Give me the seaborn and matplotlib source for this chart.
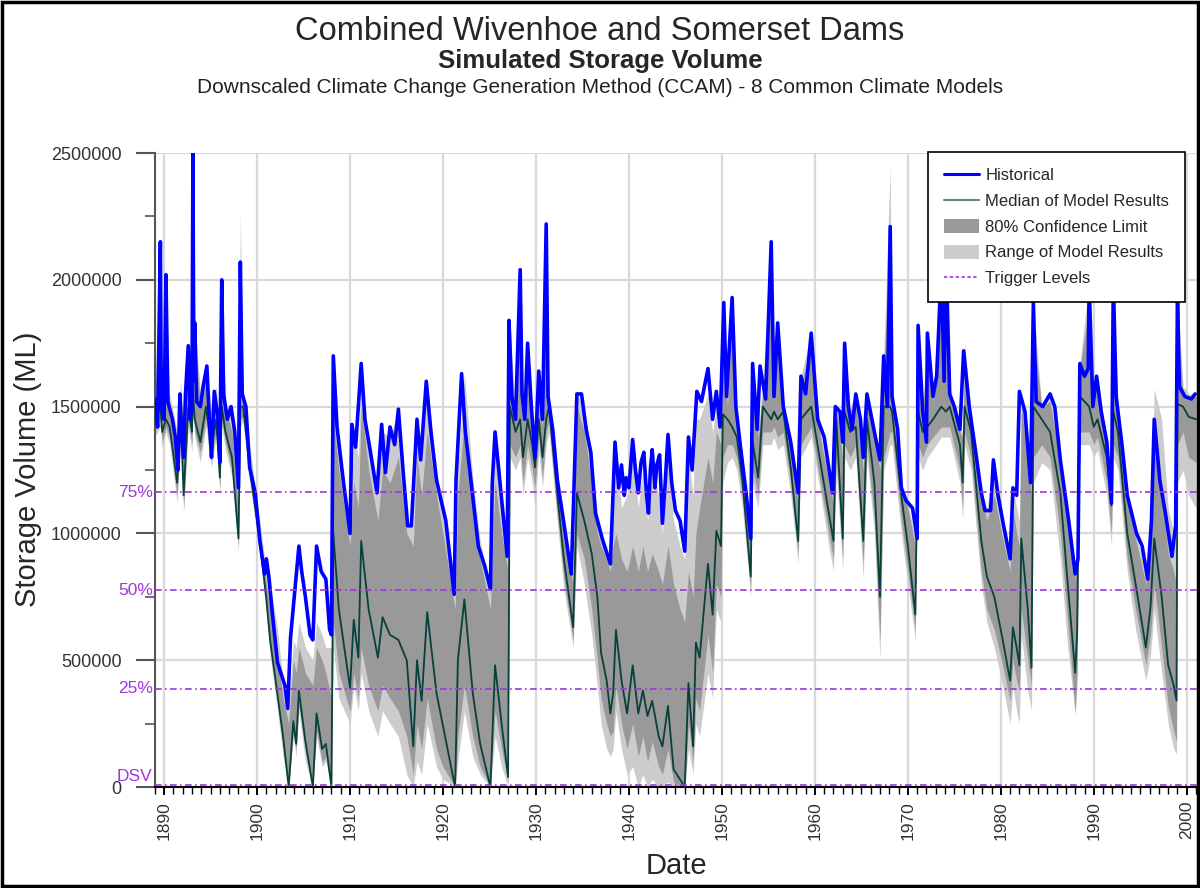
import matplotlib
matplotlib.use("Agg")
import numpy as np
import pandas as pd
import matplotlib.pyplot as plt
import seaborn as sns
from matplotlib.lines import Line2D
from matplotlib.patches import Patch, Rectangle
from matplotlib.ticker import MultipleLocator, FuncFormatter

# ---- data (storage in GL, 1 GL = 1000 ML) ----
hist_year = [
    1889.0, 1889.3, 1889.6, 1889.7, 1890.0, 1890.2, 1890.4, 1890.9, 1891.2, 1891.5,
    1891.7, 1891.9, 1892.1, 1892.3, 1892.6, 1892.8, 1893.0, 1893.1, 1893.2, 1893.3,
    1893.5, 1893.9, 1894.2, 1894.6, 1894.9, 1895.1, 1895.4, 1895.8, 1896.0, 1896.2,
    1896.4, 1896.8, 1897.2, 1897.6, 1898.0, 1898.2, 1898.4, 1898.8, 1899.2, 1899.8,
    1900.3, 1900.8, 1901.0, 1901.3, 1901.6, 1902.2, 1903.0, 1903.3, 1903.6, 1904.0,
    1904.5, 1904.8, 1905.2, 1905.7, 1906.0, 1906.4, 1906.9, 1907.4, 1907.8, 1908.0,
    1908.2, 1908.6, 1909.3, 1910.0, 1910.2, 1910.6, 1911.2, 1911.6, 1912.2, 1912.9,
    1913.4, 1913.8, 1914.3, 1914.8, 1915.2, 1915.7, 1916.2, 1916.6, 1917.2, 1917.6,
    1918.2, 1918.7, 1919.3, 1920.3, 1921.2, 1921.4, 1922.0, 1922.4, 1923.0, 1923.8,
    1924.5, 1925.1, 1925.3, 1925.6, 1926.1, 1926.9, 1927.1, 1927.4, 1927.8, 1928.3,
    1928.5, 1928.8, 1929.1, 1929.5, 1929.9, 1930.3, 1930.7, 1931.1, 1931.3, 1931.8,
    1932.3, 1933.0, 1933.8, 1934.4, 1934.9, 1935.4, 1935.9, 1936.4, 1937.2, 1938.0,
    1938.5, 1938.9, 1939.2, 1939.5, 1939.7, 1940.0, 1940.4, 1940.7, 1941.0, 1941.3,
    1941.6, 1941.9, 1942.1, 1942.3, 1942.5, 1942.8, 1943.0, 1943.3, 1943.6, 1943.9,
    1944.2, 1944.6, 1945.0, 1945.5, 1946.0, 1946.4, 1946.8, 1947.3, 1947.8, 1948.5,
    1949.0, 1949.4, 1949.8, 1950.2, 1950.5, 1951.1, 1951.5, 1952.0, 1952.6, 1953.1,
    1953.3, 1953.8, 1954.1, 1954.7, 1955.3, 1955.6, 1956.0, 1956.6, 1957.4, 1958.2,
    1958.5, 1959.0, 1959.6, 1960.3, 1961.0, 1961.9, 1962.2, 1962.7, 1963.0, 1963.2,
    1963.6, 1964.0, 1964.4, 1964.9, 1965.2, 1965.6, 1966.4, 1967.0, 1967.4, 1967.8,
    1968.1, 1968.3, 1968.9, 1969.3, 1969.8, 1970.5, 1971.0, 1971.1, 1971.6, 1972.0,
    1972.1, 1972.7, 1973.1, 1973.6, 1973.9, 1974.1, 1974.5, 1975.0, 1975.6, 1976.0,
    1976.6, 1977.3, 1977.9, 1978.3, 1978.9, 1979.2, 1979.7, 1980.3, 1981.0, 1981.3,
    1981.7, 1982.0, 1982.6, 1983.2, 1983.5, 1983.8, 1984.5, 1985.3, 1985.8, 1986.4,
    1987.3, 1988.0, 1988.3, 1988.5, 1989.0, 1989.4, 1989.5, 1989.9, 1990.3, 1990.8,
    1991.4, 1991.9, 1992.1, 1992.4, 1993.0, 1993.6, 1994.0, 1994.6, 1995.2, 1995.8,
    1996.2, 1996.5, 1997.1, 1997.7, 1998.4, 1998.8, 1999.0, 1999.2, 1999.8, 2000.5,
    2000.9,
]
hist_gl = [
    1530, 1420, 2150, 1500, 1450, 2020, 1520, 1450, 1380, 1250,
    1550, 1400, 1300, 1550, 1740, 1450, 1500, 2500, 1600, 1830,
    1520, 1500, 1580, 1660, 1420, 1300, 1560, 1450, 1280, 2000,
    1550, 1450, 1500, 1400, 1180, 2070, 1550, 1500, 1260, 1160,
    970, 840, 900, 820, 700, 490, 400, 310, 590, 750,
    950, 850, 750, 600, 580, 950, 850, 820, 620, 600,
    1700, 1420, 1200, 1000, 1430, 1340, 1670, 1450, 1320, 1160,
    1430, 1240, 1420, 1350, 1490, 1250, 1030, 1030, 1450, 1290,
    1600, 1400, 1210, 1050, 760, 1210, 1630, 1400, 1210, 950,
    870, 780, 1200, 1400, 1210, 910, 1840, 1540, 1450, 2040,
    1550, 1450, 1750, 1500, 1300, 1640, 1450, 2220, 1540, 1410,
    1210, 1040, 840, 1550, 1550, 1410, 1320, 1080, 970, 880,
    1360, 1180, 1270, 1150, 1220, 1180, 1370, 1250, 1160, 1280,
    1320, 1150, 1080, 1250, 1330, 1180, 1270, 1310, 1040, 1200,
    1390, 1200, 1090, 1050, 930, 1380, 1250, 1560, 1520, 1650,
    1450, 1560, 1420, 1910, 1540, 1930, 1500, 1340, 1160, 980,
    1670, 1410, 1660, 1530, 2150, 1540, 1830, 1500, 1360, 1160,
    1620, 1550, 1790, 1450, 1380, 1160, 1500, 1480, 1360, 1750,
    1500, 1410, 1550, 1450, 1300, 1550, 1400, 1290, 1700, 1500,
    2210, 1540, 1410, 1180, 1130, 1100, 980, 1820, 1480, 1360,
    1790, 1540, 1620, 2050, 1600, 2100, 1550, 1500, 1410, 1720,
    1500, 1320, 1160, 1090, 1090, 1290, 1150, 1030, 900, 1180,
    1150, 1560, 1480, 1200, 1910, 1520, 1500, 1550, 1500, 1290,
    1050, 840, 900, 1670, 1620, 1650, 1990, 1500, 1620, 1480,
    1360, 1120, 2000, 1540, 1360, 1150, 1090, 1000, 950, 820,
    1050, 1450, 1210, 1080, 910, 1030, 1950, 1580, 1540, 1530,
    1550,
]

# model ensemble statistics
model_year = [
    1889.0, 1889.6, 1889.8, 1890.2, 1890.6, 1891.4, 1891.8, 1892.1, 1892.6, 1893.0,
    1893.1, 1893.3, 1893.9, 1894.5, 1895.1, 1895.6, 1896.0, 1896.2, 1896.6, 1897.3,
    1898.0, 1898.2, 1898.5,
    1899.2, 1900.3, 1901.0, 1901.4, 1902.1, 1902.8, 1903.4, 1903.9, 1904.2, 1904.5,
    1905.2, 1906.0, 1906.4, 1907.0, 1907.4, 1908.0,
    1908.2, 1908.8, 1910.0, 1910.4, 1910.9, 1911.2, 1912.0, 1913.0, 1913.5, 1914.3,
    1915.2, 1916.1, 1916.8, 1917.2, 1917.7, 1918.3, 1919.3, 1920.0, 1921.3, 1921.6,
    1922.3, 1923.2, 1924.0, 1925.1, 1925.6, 1926.3, 1927.0,
    1927.2, 1927.8, 1928.3, 1928.6, 1929.1, 1929.6, 1929.9, 1930.3, 1930.7, 1931.1,
    1931.4, 1932.3, 1933.0, 1934.0, 1934.4, 1935.2, 1936.0, 1936.6, 1937.0, 1937.6,
    1938.0, 1938.3, 1938.6, 1939.2, 1939.8, 1940.4, 1941.0, 1941.5, 1942.0, 1942.5,
    1943.2, 1943.6, 1944.2, 1944.8, 1945.5, 1946.0, 1946.4, 1946.9, 1947.2, 1947.6,
    1948.5, 1949.0, 1949.4, 1949.9, 1950.1, 1950.6, 1951.1, 1951.6, 1952.2, 1953.1,
    1953.3, 1953.9, 1954.4, 1955.3, 1955.6, 1956.0, 1956.6, 1957.4, 1958.2, 1958.5,
    1959.6, 1960.5, 1961.5, 1962.0, 1962.3, 1963.0, 1963.2, 1963.8, 1964.4, 1965.2,
    1965.6, 1966.4, 1967.0, 1967.4, 1968.1, 1968.3, 1969.3, 1970.0, 1970.8, 1971.1,
    1971.6, 1972.1, 1972.7, 1973.6, 1974.1, 1974.5, 1975.6, 1975.9, 1976.1, 1976.8,
    1977.9, 1978.5, 1979.3, 1980.2, 1981.0, 1981.3, 1981.7, 1982.0, 1982.2, 1982.9,
    1983.3, 1983.5, 1984.4, 1985.3, 1986.4, 1987.2, 1988.0, 1988.2, 1988.5, 1989.5,
    1990.0, 1990.4, 1991.4, 1991.9, 1992.1, 1992.6, 1993.6, 1994.5, 1995.6, 1996.1,
    1996.5, 1997.3, 1998.0, 1998.6, 1998.9, 1999.0, 1999.6, 2000.2, 2001.0,
]
median_gl = [
    1450, 1500, 1400, 1450, 1420, 1200, 1450, 1150, 1500, 1400,
    1550, 1450, 1360, 1500, 1340, 1450, 1220, 1500, 1400, 1300,
    980, 1500, 1500,
    1260, 970, 740, 580, 390, 200, 0, 260, 170, 380,
    180, 0, 290, 150, 170, 0,
    1000, 700, 390, 660, 510, 970, 700, 510, 670, 600,
    580, 500, 160, 500, 340, 690, 370, 240, 0, 500,
    740, 370, 170, 0, 480, 250, 40,
    1500, 1400, 1450, 1300, 1450, 1350, 1260, 1450, 1300, 1450,
    1500, 1150, 900, 630, 1160, 1050, 920, 750, 530, 420,
    290, 370, 620, 420, 290, 480, 290, 380, 280, 340,
    200, 160, 320, 70, 30, 0, 410, 160, 570, 510,
    880, 680, 1010, 950, 1470, 1450, 1420, 1380, 1210, 830,
    1360, 1220, 1500, 1450, 1480, 1450, 1480, 1260, 970, 1450,
    1500, 1300, 1080, 970, 1450, 980, 1480, 1400, 1420, 970,
    1450, 1200, 750, 1500, 1500, 1480, 1150, 950, 680, 1480,
    1400, 1420, 1450, 1500, 1480, 1500, 1350, 1200, 1500, 1400,
    970, 830, 750, 580, 420, 630, 550, 480, 980, 700,
    470, 1500, 1450, 1400, 1160, 800, 450, 600, 1540, 1500,
    1420, 1450, 1300, 1110, 1480, 1400, 1000, 800, 550, 710,
    980, 750, 480, 400, 340, 1510, 1500, 1460, 1450,
]
ci_low_gl = [
    1400, 1450, 1360, 1420, 1380, 1150, 1400, 1100, 1450, 1350,
    1500, 1400, 1320, 1450, 1300, 1400, 1180, 1450, 1360, 1250,
    950, 1450, 1460,
    1220, 940, 700, 550, 360, 150, 0, 220, 150, 320,
    140, 0, 220, 100, 120, 0,
    650, 450, 300, 450, 350, 550, 400, 300, 400, 350,
    300, 200, 50, 250, 150, 350, 150, 80, 0, 200,
    400, 200, 80, 0, 300, 150, 20,
    1350, 1300, 1350, 1200, 1350, 1250, 1180, 1380, 1220, 1400,
    1440, 1080, 820, 580, 1000, 900, 700, 500, 350, 250,
    200, 220, 400, 250, 150, 250, 120, 200, 100, 180,
    80, 50, 150, 20, 0, 0, 250, 100, 350, 300,
    600, 450, 800, 750, 1300, 1350, 1350, 1300, 1150, 780,
    1250, 1150, 1400, 1400, 1420, 1380, 1400, 1200, 920, 1350,
    1420, 1220, 1000, 900, 1300, 900, 1350, 1300, 1350, 880,
    1350, 1050, 580, 1300, 1400, 1400, 1050, 850, 620, 1350,
    1300, 1350, 1380, 1420, 1420, 1420, 1250, 1100, 1400, 1300,
    850, 700, 620, 480, 340, 500, 420, 380, 700, 500,
    400, 1300, 1350, 1300, 1000, 650, 300, 450, 1400, 1400,
    1350, 1380, 1200, 1000, 1350, 1300, 900, 700, 480, 600,
    800, 550, 320, 220, 180, 1350, 1400, 1300, 1280,
]
ci_high_gl = [
    1520, 1950, 1500, 1900, 1500, 1350, 1550, 1350, 1700, 1500,
    2300, 1800, 1500, 1620, 1450, 1550, 1350, 1950, 1500, 1400,
    1100, 2050, 1550,
    1320, 1020, 800, 700, 550, 350, 250, 500, 450, 550,
    450, 400, 550, 500, 450, 350,
    1450, 1250, 950, 1200, 1100, 1500, 1250, 1050, 1250, 1200,
    1300, 1000, 950, 1300, 1150, 1400, 1150, 1000, 700, 1150,
    1450, 1100, 900, 700, 1200, 1000, 850,
    1750, 1450, 1900, 1500, 1700, 1450, 1300, 1600, 1420, 2100,
    1530, 1200, 1000, 800, 1500, 1400, 1200, 1000, 950, 900,
    850, 950, 1000, 900, 850, 950, 850, 950, 850, 920,
    850, 800, 950, 800, 700, 650, 850, 750, 1000, 1100,
    1300, 1200, 1400, 1350, 1800, 1500, 1850, 1450, 1300, 950,
    1600, 1380, 1550, 2000, 1520, 1750, 1500, 1330, 1120, 1580,
    1750, 1400, 1200, 1120, 1500, 1300, 1700, 1480, 1520, 1250,
    1520, 1380, 1250, 1650, 2200, 1520, 1170, 1100, 950, 1750,
    1480, 1750, 1520, 2000, 2050, 1550, 1400, 1380, 1700, 1450,
    1140, 1050, 1150, 980, 850, 1100, 1000, 950, 1500, 1300,
    1150, 1800, 1500, 1520, 1280, 1030, 820, 880, 1650, 1900,
    1500, 1600, 1340, 1120, 1900, 1500, 1130, 980, 800, 980,
    1450, 1150, 920, 850, 800, 1850, 1550, 1540, 1540,
]
range_low_gl = [
    1380, 1420, 1330, 1400, 1350, 1120, 1380, 1080, 1420, 1320,
    1480, 1380, 1280, 1420, 1260, 1380, 1150, 1420, 1330, 1220,
    930, 1420, 1440,
    1200, 920, 680, 520, 330, 120, 0, 200, 120, 300,
    100, 0, 200, 80, 100, 0,
    550, 350, 250, 400, 300, 450, 300, 200, 300, 250,
    200, 50, 0, 100, 50, 250, 80, 30, 0, 100,
    300, 120, 50, 0, 200, 80, 0,
    1300, 1250, 1300, 1150, 1300, 1200, 1100, 1320, 1180, 1350,
    1400, 1040, 780, 550, 950, 800, 600, 400, 250, 150,
    120, 150, 300, 150, 50, 80, 0, 50, 0, 30,
    0, 0, 20, 0, 0, 0, 150, 50, 250, 200,
    450, 350, 700, 650, 1200, 1280, 1300, 1250, 1100, 750,
    1200, 1100, 1350, 1350, 1380, 1330, 1350, 1150, 880, 1300,
    1380, 1180, 950, 850, 1250, 850, 1300, 1250, 1300, 820,
    1300, 1000, 500, 1250, 1350, 1350, 1000, 800, 580, 1300,
    1250, 1300, 1330, 1380, 1380, 1380, 1200, 1050, 1350, 1250,
    800, 650, 550, 400, 250, 400, 300, 250, 600, 380,
    300, 1200, 1280, 1250, 900, 550, 280, 400, 1350, 1350,
    1300, 1330, 1150, 950, 1300, 1250, 850, 620, 420, 520,
    700, 450, 250, 150, 130, 1200, 1250, 1150, 1100,
]
range_high_gl = [
    1550, 2150, 1550, 2050, 1550, 1400, 1600, 1400, 1750, 1550,
    2500, 1850, 1550, 1650, 1500, 1580, 1400, 2000, 1520, 1450,
    1200, 2270, 1570,
    1350, 1050, 850, 800, 650, 420, 300, 580, 550, 650,
    550, 500, 650, 600, 550, 550,
    1650, 1350, 1000, 1400, 1300, 1650, 1350, 1150, 1400, 1380,
    1480, 1030, 1030, 1450, 1290, 1600, 1250, 1100, 780, 1250,
    1630, 1220, 970, 780, 1400, 1150, 920,
    1840, 1450, 2040, 1520, 1750, 1480, 1300, 1640, 1440, 2250,
    1540, 1210, 1020, 840, 1550, 1500, 1300, 1080, 1000, 950,
    880, 1100, 1300, 1100, 1150, 1300, 1100, 1250, 1050, 1250,
    1150, 1000, 1320, 1050, 950, 900, 1300, 1150, 1450, 1450,
    1550, 1400, 1500, 1400, 1910, 1520, 1930, 1480, 1320, 980,
    1670, 1400, 1600, 2150, 1540, 1830, 1500, 1360, 1160, 1620,
    1790, 1420, 1220, 1160, 1500, 1360, 1750, 1500, 1550, 1300,
    1550, 1400, 1290, 1700, 2450, 1540, 1180, 1120, 980, 1850,
    1500, 1800, 1550, 2050, 2100, 1560, 1420, 1400, 1750, 1480,
    1160, 1100, 1250, 1020, 900, 1180, 1100, 1050, 1560, 1400,
    1200, 1910, 1500, 1550, 1290, 1050, 840, 900, 1670, 2000,
    1500, 1620, 1360, 1120, 2000, 1520, 1150, 1000, 850, 1050,
    1570, 1450, 1100, 1000, 950, 1950, 1580, 1550, 1550,
]

trigger_names = ["75%", "50%", "25%", "DSV"]
trigger_gl = [1162, 775, 387, 9]

decades = list(range(1890, 2001, 10))

hist = pd.DataFrame({"year": hist_year, "ml": np.array(hist_gl) * 1000})
model = pd.DataFrame({
    "year": model_year,
    "median": np.array(median_gl) * 1000,
    "ci_low": np.array(ci_low_gl) * 1000,
    "ci_high": np.array(ci_high_gl) * 1000,
    "rng_low": np.array(range_low_gl) * 1000,
    "rng_high": np.array(range_high_gl) * 1000,
})

# ---- style ----
sns.set_style("white")
plt.rcParams["font.family"] = ["Liberation Sans", "DejaVu Sans"]

HIST_BLUE = "#0000ff"
MEDIAN_COL = "#08403a"
CI_GREY = "#999999"
RANGE_GREY = "#cccccc"
TRIGGER = "#a035dc"
TRIG_DASH = (0, (4, 2, 1, 2))

fig = plt.figure(figsize=(12, 8.88), dpi=100)
ax = fig.add_axes([0.129, 0.1137, 0.8685, 0.714])
ax.set_axisbelow(True)

ax.fill_between(model["year"], model["rng_low"], model["rng_high"],
                color=RANGE_GREY, linewidth=0, zorder=1)
ax.fill_between(model["year"], model["ci_low"], model["ci_high"],
                color=CI_GREY, linewidth=0, zorder=2)
sns.lineplot(data=model, x="year", y="median", ax=ax, color=MEDIAN_COL,
             linewidth=1.3, estimator=None, zorder=3)
sns.lineplot(data=hist, x="year", y="ml", ax=ax, color=HIST_BLUE,
             linewidth=2.6, estimator=None, zorder=4)

for name, lvl in zip(trigger_names, trigger_gl):
    ax.axhline(lvl * 1000, color=TRIGGER, linestyle=TRIG_DASH, linewidth=1.2, zorder=5)
    ax.text(-0.002, lvl * 1000 + (2000 if name == "DSV" else 0), name,
            transform=ax.get_yaxis_transform(), ha="right",
            va="bottom" if name == "DSV" else "center",
            color=TRIGGER, fontsize=12.5)

# axes
ax.set_xlim(1889.0, 2001.1)
ax.set_ylim(0, 2500000)
ax.set_xticks(decades)
ax.xaxis.set_minor_locator(MultipleLocator(1))
ax.yaxis.set_major_locator(MultipleLocator(500000))
ax.yaxis.set_minor_locator(MultipleLocator(250000))
ax.yaxis.set_major_formatter(FuncFormatter(lambda v, p: f"{int(v)}"))
ax.grid(True, which="major", color="#d9d9d9", linewidth=1.6)
ax.tick_params(axis="y", which="major", length=14, width=1.5, color="#555555",
               labelsize=13, labelcolor="#333333", pad=10, direction="out", left=True)
ax.tick_params(axis="y", which="minor", length=7, width=1.2, color="#555555", left=True)
ax.tick_params(axis="x", which="major", length=6, width=1.4, color="black",
               labelsize=12.5, labelcolor="#333333", pad=4, direction="out",
               bottom=True, labelrotation=90)
ax.tick_params(axis="x", which="minor", length=5, width=1.0, color="black", bottom=True)
for side in ["top", "right"]:
    ax.spines[side].set_visible(False)
ax.spines["left"].set_color("#555555")
ax.spines["left"].set_linewidth(1.5)
ax.spines["bottom"].set_color("black")
ax.spines["bottom"].set_linewidth(1.5)
ax.set_xlabel("")
ax.set_ylabel("")

fig.text(0.5, 1 - 32 / 888, "Combined Wivenhoe and Somerset Dams",
         ha="center", va="center", fontsize=23.5)
fig.text(0.5, 1 - 61 / 888, "Simulated Storage Volume",
         ha="center", va="center", fontsize=18.5, fontweight="bold")
fig.text(0.5, 1 - 87 / 888,
         "Downscaled Climate Change Generation Method (CCAM) - 8 Common Climate Models",
         ha="center", va="center", fontsize=15, color="#222222")
fig.text(28 / 1200, 0.472, "Storage Volume (ML)", rotation=90,
         ha="center", va="center", fontsize=21)
fig.text(676 / 1200, 1 - 866 / 888, "Date", ha="center", va="center", fontsize=21)

handles = [
    Line2D([0], [0], color=HIST_BLUE, linewidth=2.2),
    Line2D([0], [0], color="#5d8a88", linewidth=1.5),
    Patch(facecolor=CI_GREY, edgecolor="none"),
    Patch(facecolor=RANGE_GREY, edgecolor="none"),
    Line2D([0], [0], color=TRIGGER, linestyle=(0, (2, 1.5)), linewidth=1.2),
]
labels = ["Historical", "Median of Model Results", "80% Confidence Limit",
          "Range of Model Results", "Trigger Levels"]
leg = ax.legend(handles, labels, loc="upper right",
                bbox_to_anchor=(1185 / 1200, 1 - 152 / 888),
                bbox_transform=fig.transFigure, frameon=True, fancybox=False,
                edgecolor="black", framealpha=1, borderaxespad=0, fontsize=12,
                handlelength=2.1, handleheight=0.9, labelspacing=0.6,
                borderpad=0.95, handletextpad=0.4)
leg.get_frame().set_linewidth(1.2)
leg.set_zorder(10)

fig.patches.append(Rectangle((0.002, 0.002), 0.996, 0.996, transform=fig.transFigure,
                             fill=False, edgecolor="black", linewidth=2.5))

fig.savefig("out.png", dpi=100)
